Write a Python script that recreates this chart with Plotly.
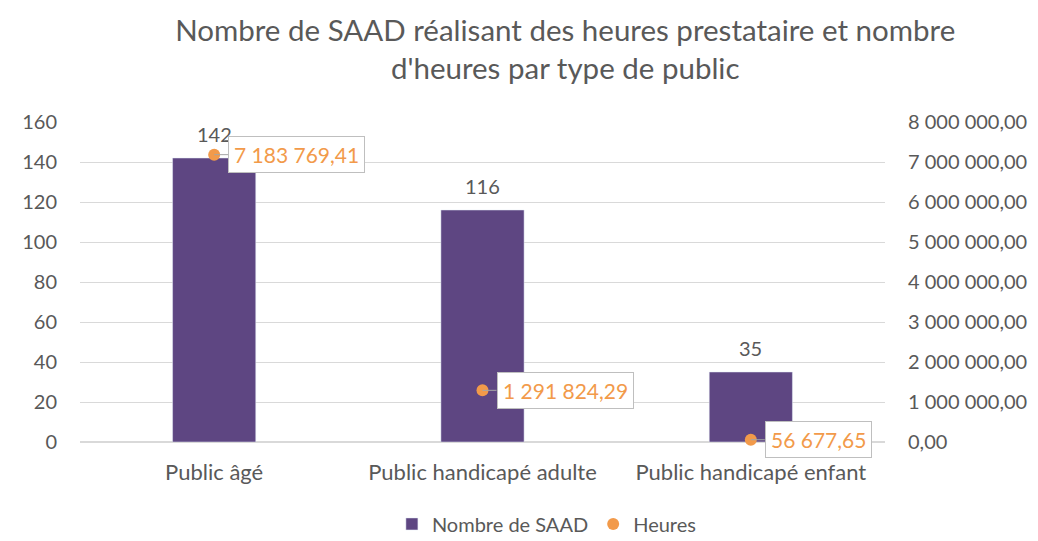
import plotly.graph_objects as go

categories = ["Public âgé", "Public handicapé adulte", "Public handicapé enfant"]
nb_saad = [142, 116, 35]
heures = [7183769.41, 1291824.29, 56677.65]
left_ticks = [0, 20, 40, 60, 80, 100, 120, 140, 160]
right_ticks = [0, 1000000, 2000000, 3000000, 4000000, 5000000, 6000000, 7000000, 8000000]


def fr(v):
    s = f"{v:,.2f}"
    return s.replace(",", " ").replace(".", ",")


grey = "#595959"
orange = "#F29A4A"
font = "Lato, Open Sans, sans-serif"

fig = go.Figure()
fig.add_trace(go.Bar(
    x=categories, y=nb_saad, name="Nombre de SAAD",
    marker=dict(color="#5E4682"),
    width=0.31,
))
fig.add_trace(go.Scatter(
    x=categories, y=heures, name="Heures", yaxis="y2", mode="markers",
    marker=dict(color=orange, size=12),
    cliponaxis=False,
))

for c, v in zip(categories, nb_saad):
    fig.add_annotation(
        x=c, y=v, text=str(v), showarrow=False,
        yanchor="bottom", yshift=10,
        font=dict(color=grey, size=20, family=font),
    )

for c, h in zip(categories, heures):
    fig.add_annotation(
        x=c, y=h, yref="y2", text=fr(h), showarrow=True,
        arrowhead=0, arrowcolor="#A6A6A6", arrowwidth=1,
        ax=14, ay=0, xanchor="left", yanchor="middle",
        bordercolor="#BFBFBF", borderwidth=1, borderpad=5,
        bgcolor="white",
        font=dict(color=orange, size=21, family=font),
    )

fig.update_layout(
    width=1030, height=533,
    margin=dict(l=72, r=153, t=114, b=99, autoexpand=False),
    plot_bgcolor="white", paper_bgcolor="white",
    title=dict(
        text="Nombre de SAAD réalisant des heures prestataire et nombre<br>d'heures par type de public",
        x=0.541, xanchor="center", y=0.938, yanchor="top",
        font=dict(size=29.5, color=grey, family=font),
    ),
    xaxis=dict(tickfont=dict(size=22, color=grey, family=font), showline=False,
               ticks="", ticklabelstandoff=15),
    yaxis=dict(range=[0, 160], tickvals=left_ticks, ticktext=[str(t) for t in left_ticks],
               tickfont=dict(size=20, color=grey, family=font),
               gridcolor="#D9D9D9", zeroline=True, zerolinecolor="#D9D9D9",
               ticklabelstandoff=22),
    yaxis2=dict(range=[0, 8000000], overlaying="y", side="right",
                tickvals=right_ticks, ticktext=[fr(t) for t in right_ticks],
                tickfont=dict(size=20, color=grey, family=font),
                showgrid=False, zeroline=False, ticklabelstandoff=22),
    legend=dict(orientation="h", x=0.58, xanchor="center", yref="container",
                y=0.032, yanchor="middle",
                font=dict(size=20, color=grey, family=font)),
)

fig.write_html("out.html")
